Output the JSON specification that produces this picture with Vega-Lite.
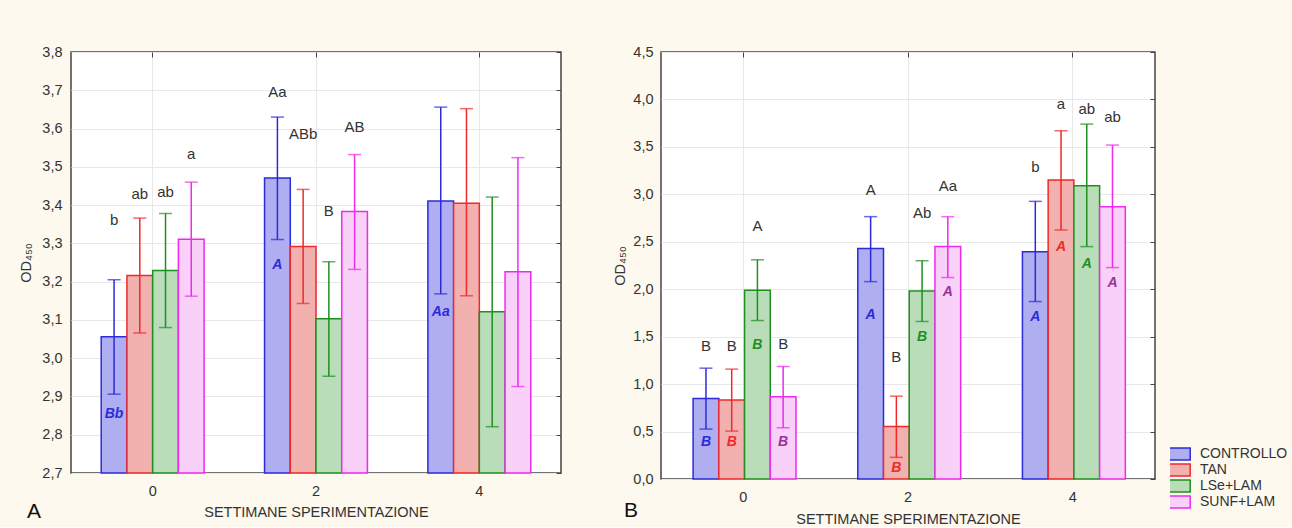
{
  "$schema": "https://vega.github.io/schema/vega-lite/v6.json",
  "background": "#fdf9ee",
  "padding": {"left": 18, "top": 43, "right": 136, "bottom": 0},
  "spacing": 100,
  "bounds": "flush",
  "resolve": {"scale": {"fill": "independent", "stroke": "independent", "color": "independent"}, "legend": {"fill": "independent", "stroke": "independent", "color": "independent"}},
  "config": {
    "font": "Liberation Sans",
    "view": {"stroke": "#444", "strokeWidth": 1.5, "fill": "white"},
    "axis": {"labelFont": "Liberation Sans", "labelFontSize": 14.5, "labelColor": "#333", "titleFont": "Liberation Sans", "titleFontSize": 14.5, "titleFontWeight": "normal", "titleColor": "#333", "gridColor": "#e8e8e8", "domain": false},
    "title": {"font": "Liberation Sans"}
  },
  "datasets": {
    "A": [
      {"week": "0", "group": "CONTROLLO", "mean": 3.056, "lo": 2.906, "hi": 3.205, "top": "b", "ly": 3.36, "inner": "Bb", "iy": 2.855},
      {"week": "0", "group": "TAN", "mean": 3.216, "lo": 3.066, "hi": 3.366, "top": "ab", "ly": 3.43, "inner": "", "iy": null},
      {"week": "0", "group": "LSe+LAM", "mean": 3.229, "lo": 3.08, "hi": 3.378, "top": "ab", "ly": 3.435, "inner": "", "iy": null},
      {"week": "0", "group": "SUNF+LAM", "mean": 3.311, "lo": 3.162, "hi": 3.46, "top": "a", "ly": 3.533, "inner": "", "iy": null},
      {"week": "2", "group": "CONTROLLO", "mean": 3.471, "lo": 3.31, "hi": 3.63, "top": "Aa", "ly": 3.696, "inner": "A", "iy": 3.244},
      {"week": "2", "group": "TAN", "mean": 3.292, "lo": 3.143, "hi": 3.441, "top": "ABb", "ly": 3.587, "inner": "", "iy": null},
      {"week": "2", "group": "LSe+LAM", "mean": 3.103, "lo": 2.953, "hi": 3.252, "top": "B", "ly": 3.384, "inner": "", "iy": null},
      {"week": "2", "group": "SUNF+LAM", "mean": 3.383, "lo": 3.232, "hi": 3.532, "top": "AB", "ly": 3.604, "inner": "", "iy": null},
      {"week": "4", "group": "CONTROLLO", "mean": 3.411, "lo": 3.168, "hi": 3.656, "top": "", "ly": null, "inner": "Aa", "iy": 3.12},
      {"week": "4", "group": "TAN", "mean": 3.405, "lo": 3.163, "hi": 3.652, "top": "", "ly": null, "inner": "", "iy": null},
      {"week": "4", "group": "LSe+LAM", "mean": 3.121, "lo": 2.821, "hi": 3.421, "top": "", "ly": null, "inner": "", "iy": null},
      {"week": "4", "group": "SUNF+LAM", "mean": 3.226, "lo": 2.926, "hi": 3.524, "top": "", "ly": null, "inner": "", "iy": null}
    ],
    "B": [
      {"week": "0", "group": "CONTROLLO", "mean": 0.849, "lo": 0.526, "hi": 1.168, "top": "B", "ly": 1.40, "inner": "B", "iy": 0.39},
      {"week": "0", "group": "TAN", "mean": 0.832, "lo": 0.505, "hi": 1.158, "top": "B", "ly": 1.40, "inner": "B", "iy": 0.39},
      {"week": "0", "group": "LSe+LAM", "mean": 1.989, "lo": 1.67, "hi": 2.31, "top": "A", "ly": 2.67, "inner": "B", "iy": 1.407},
      {"week": "0", "group": "SUNF+LAM", "mean": 0.867, "lo": 0.54, "hi": 1.186, "top": "B", "ly": 1.42, "inner": "B", "iy": 0.39},
      {"week": "2", "group": "CONTROLLO", "mean": 2.428, "lo": 2.08, "hi": 2.765, "top": "A", "ly": 3.05, "inner": "A", "iy": 1.73},
      {"week": "2", "group": "TAN", "mean": 0.554, "lo": 0.228, "hi": 0.873, "top": "B", "ly": 1.29, "inner": "B", "iy": 0.12},
      {"week": "2", "group": "LSe+LAM", "mean": 1.982, "lo": 1.66, "hi": 2.30, "top": "Ab", "ly": 2.80, "inner": "B", "iy": 1.50},
      {"week": "2", "group": "SUNF+LAM", "mean": 2.449, "lo": 2.123, "hi": 2.765, "top": "Aa", "ly": 3.09, "inner": "A", "iy": 1.97},
      {"week": "4", "group": "CONTROLLO", "mean": 2.396, "lo": 1.87, "hi": 2.926, "top": "b", "ly": 3.284, "inner": "A", "iy": 1.71},
      {"week": "4", "group": "TAN", "mean": 3.151, "lo": 2.624, "hi": 3.67, "top": "a", "ly": 3.95, "inner": "A", "iy": 2.44},
      {"week": "4", "group": "LSe+LAM", "mean": 3.091, "lo": 2.449, "hi": 3.74, "top": "ab", "ly": 3.895, "inner": "A", "iy": 2.27},
      {"week": "4", "group": "SUNF+LAM", "mean": 2.87, "lo": 2.228, "hi": 3.519, "top": "ab", "ly": 3.82, "inner": "A", "iy": 2.07}
    ]
  },
  "hconcat": [
    {
      "width": 490,
      "height": 421,
      "data": {"name": "A"},
      "title": {"text": "A", "orient": "bottom", "anchor": "start", "frame": "group", "fontSize": 21, "fontWeight": "normal", "color": "#111", "dx": -44, "dy": -22},
      "resolve": {"axis": {"x": "independent", "y": "independent"}},
      "layer": [
        {
          "mark": {"type": "bar", "strokeWidth": 1.5},
          "encoding": {
            "x": {"field": "week", "type": "nominal", "scale": {"paddingInner": 0.37, "paddingOuter": 0.185}, "axis": {"orient": "bottom", "labelAngle": 0, "ticks": false, "tickSize": 0, "labelPadding": 11, "title": "SETTIMANE SPERIMENTAZIONE", "titlePadding": 8, "grid": false}},
            "xOffset": {"field": "group", "type": "nominal", "sort": ["CONTROLLO", "TAN", "LSe+LAM", "SUNF+LAM"], "scale": {"paddingInner": 0, "paddingOuter": 0}},
            "y": {"field": "mean", "type": "quantitative", "scale": {"domain": [2.7, 3.8], "nice": false, "zero": false}, "axis": {"orient": "left", "values": [2.7, 2.8, 2.9, 3.0, 3.1, 3.2, 3.3, 3.4, 3.5, 3.6, 3.7, 3.8], "labelExpr": "replace(format(datum.value, '.1f'), '.', ',')", "ticks": false, "tickSize": 0, "labelPadding": 9, "title": "OD₄₅₀", "titlePadding": 8, "grid": true}},
            "y2": {"datum": 2.7},
            "fill": {"field": "group", "type": "nominal", "sort": ["CONTROLLO", "TAN", "LSe+LAM", "SUNF+LAM"], "scale": {"domain": ["CONTROLLO", "TAN", "LSe+LAM", "SUNF+LAM"], "range": ["#aeaef0", "#f2b0ae", "#b9dcb9", "#f8d0f8"]}, "legend": null},
            "stroke": {"field": "group", "type": "nominal", "sort": ["CONTROLLO", "TAN", "LSe+LAM", "SUNF+LAM"], "scale": {"domain": ["CONTROLLO", "TAN", "LSe+LAM", "SUNF+LAM"], "range": ["#2b2bdc", "#ee2a2a", "#1f8f1f", "#ee2aee"]}, "legend": null}
          }
        },
        {
          "mark": {"type": "rule", "strokeWidth": 1.5},
          "encoding": {
            "x": {"field": "week", "type": "nominal", "axis": {"orient": "top", "labels": false, "title": null, "tickSize": -5, "tickColor": "#444", "grid": true}},
            "xOffset": {"field": "group", "type": "nominal", "sort": ["CONTROLLO", "TAN", "LSe+LAM", "SUNF+LAM"]},
            "y": {"field": "lo", "type": "quantitative", "axis": {"orient": "right", "labels": false, "title": null, "values": [2.7, 2.8, 2.9, 3.0, 3.1, 3.2, 3.3, 3.4, 3.5, 3.6, 3.7, 3.8], "tickSize": -5, "tickColor": "#444", "grid": false}},
            "y2": {"field": "hi"},
            "color": {"field": "group", "type": "nominal", "scale": {"domain": ["CONTROLLO", "TAN", "LSe+LAM", "SUNF+LAM"], "range": ["#2b2bdc", "#ee2a2a", "#1f8f1f", "#ee2aee"]}, "legend": null}
          }
        },
        {
          "mark": {"type": "tick", "thickness": 1.5, "size": 13},
          "encoding": {
            "x": {"field": "week", "type": "nominal", "axis": null},
            "xOffset": {"field": "group", "type": "nominal", "sort": ["CONTROLLO", "TAN", "LSe+LAM", "SUNF+LAM"]},
            "y": {"field": "lo", "type": "quantitative", "axis": null},
            "color": {"field": "group", "type": "nominal", "legend": null}
          }
        },
        {
          "mark": {"type": "tick", "thickness": 1.5, "size": 13},
          "encoding": {
            "x": {"field": "week", "type": "nominal", "axis": null},
            "xOffset": {"field": "group", "type": "nominal", "sort": ["CONTROLLO", "TAN", "LSe+LAM", "SUNF+LAM"]},
            "y": {"field": "hi", "type": "quantitative", "axis": null},
            "color": {"field": "group", "type": "nominal", "legend": null}
          }
        },
        {
          "transform": [{"filter": "datum.top != ''"}],
          "mark": {"type": "text", "fontSize": 15, "color": "#333", "baseline": "middle"},
          "encoding": {
            "x": {"field": "week", "type": "nominal", "axis": null},
            "xOffset": {"field": "group", "type": "nominal", "sort": ["CONTROLLO", "TAN", "LSe+LAM", "SUNF+LAM"]},
            "y": {"field": "ly", "type": "quantitative", "axis": null},
            "text": {"field": "top"}
          }
        },
        {
          "transform": [{"filter": "datum.inner != ''"}],
          "mark": {"type": "text", "fontSize": 14, "fontStyle": "italic", "fontWeight": "bold", "baseline": "middle"},
          "encoding": {
            "x": {"field": "week", "type": "nominal", "axis": null},
            "xOffset": {"field": "group", "type": "nominal", "sort": ["CONTROLLO", "TAN", "LSe+LAM", "SUNF+LAM"]},
            "y": {"field": "iy", "type": "quantitative", "axis": null},
            "text": {"field": "inner"},
            "color": {"field": "group", "type": "nominal", "legend": null}
          }
        }
      ]
    },
    {
      "width": 494,
      "height": 427,
      "data": {"name": "B"},
      "title": {"text": "B", "orient": "bottom", "anchor": "start", "frame": "group", "fontSize": 21, "fontWeight": "normal", "color": "#111", "dx": -37, "dy": -30},
      "resolve": {"axis": {"x": "independent", "y": "independent"}},
      "layer": [
        {
          "mark": {"type": "bar", "strokeWidth": 1.5},
          "encoding": {
            "x": {"field": "week", "type": "nominal", "scale": {"paddingInner": 0.39, "paddingOuter": 0.195}, "axis": {"orient": "bottom", "labelAngle": 0, "ticks": false, "tickSize": 0, "labelPadding": 11, "title": "SETTIMANE SPERIMENTAZIONE", "titlePadding": 9, "grid": false}},
            "xOffset": {"field": "group", "type": "nominal", "sort": ["CONTROLLO", "TAN", "LSe+LAM", "SUNF+LAM"], "scale": {"paddingInner": 0, "paddingOuter": 0}},
            "y": {"field": "mean", "type": "quantitative", "scale": {"domain": [0, 4.5], "nice": false}, "axis": {"orient": "left", "values": [0, 0.5, 1, 1.5, 2, 2.5, 3, 3.5, 4, 4.5], "labelExpr": "replace(format(datum.value, '.1f'), '.', ',')", "ticks": false, "tickSize": 0, "labelPadding": 8, "title": "OD₄₅₀", "titlePadding": 5, "grid": true}},
            "y2": {"datum": 0},
            "fill": {"field": "group", "type": "nominal", "sort": ["CONTROLLO", "TAN", "LSe+LAM", "SUNF+LAM"], "scale": {"domain": ["CONTROLLO", "TAN", "LSe+LAM", "SUNF+LAM"], "range": ["#aeaef0", "#f2b0ae", "#b9dcb9", "#f8d0f8"]}, "legend": {"title": null, "orient": "none", "legendX": 509, "legendY": 394, "symbolType": "M-1.4,-0.75H1.4V0.75H-1.4Z", "symbolSize": 256, "symbolStrokeWidth": 1.5, "labelFontSize": 14, "labelColor": "#333", "labelFont": "Liberation Sans", "rowPadding": 0, "clipHeight": 16, "labelOffset": 12, "labelExpr": "datum.label == 'CONTROLLO' || datum.label == 'TAN' ? datum.label : '\u00a0' + datum.label"}},
            "stroke": {"field": "group", "type": "nominal", "sort": ["CONTROLLO", "TAN", "LSe+LAM", "SUNF+LAM"], "scale": {"domain": ["CONTROLLO", "TAN", "LSe+LAM", "SUNF+LAM"], "range": ["#2b2bdc", "#ee2a2a", "#1f8f1f", "#ee2aee"]}, "legend": {"title": null, "orient": "none", "legendX": 509, "legendY": 394, "symbolType": "M-1.4,-0.75H1.4V0.75H-1.4Z", "symbolSize": 256, "symbolStrokeWidth": 1.5, "labelFontSize": 14, "labelColor": "#333", "labelFont": "Liberation Sans", "rowPadding": 0, "clipHeight": 16, "labelOffset": 12, "labelExpr": "datum.label == 'CONTROLLO' || datum.label == 'TAN' ? datum.label : '\u00a0' + datum.label"}}
          }
        },
        {
          "mark": {"type": "rule", "strokeWidth": 1.5},
          "encoding": {
            "x": {"field": "week", "type": "nominal", "axis": {"orient": "top", "labels": false, "title": null, "tickSize": -5, "tickColor": "#444", "grid": true}},
            "xOffset": {"field": "group", "type": "nominal", "sort": ["CONTROLLO", "TAN", "LSe+LAM", "SUNF+LAM"]},
            "y": {"field": "lo", "type": "quantitative", "axis": {"orient": "right", "labels": false, "title": null, "values": [0, 0.5, 1, 1.5, 2, 2.5, 3, 3.5, 4, 4.5], "tickSize": -5, "tickColor": "#444", "grid": false}},
            "y2": {"field": "hi"},
            "color": {"field": "group", "type": "nominal", "scale": {"domain": ["CONTROLLO", "TAN", "LSe+LAM", "SUNF+LAM"], "range": ["#2b2bdc", "#ee2a2a", "#1f8f1f", "#ee2aee"]}, "legend": null}
          }
        },
        {
          "mark": {"type": "tick", "thickness": 1.5, "size": 13},
          "encoding": {
            "x": {"field": "week", "type": "nominal", "axis": null},
            "xOffset": {"field": "group", "type": "nominal", "sort": ["CONTROLLO", "TAN", "LSe+LAM", "SUNF+LAM"]},
            "y": {"field": "lo", "type": "quantitative", "axis": null},
            "color": {"field": "group", "type": "nominal", "legend": null}
          }
        },
        {
          "mark": {"type": "tick", "thickness": 1.5, "size": 13},
          "encoding": {
            "x": {"field": "week", "type": "nominal", "axis": null},
            "xOffset": {"field": "group", "type": "nominal", "sort": ["CONTROLLO", "TAN", "LSe+LAM", "SUNF+LAM"]},
            "y": {"field": "hi", "type": "quantitative", "axis": null},
            "color": {"field": "group", "type": "nominal", "legend": null}
          }
        },
        {
          "transform": [{"filter": "datum.top != ''"}],
          "mark": {"type": "text", "fontSize": 15, "color": "#333", "baseline": "middle"},
          "encoding": {
            "x": {"field": "week", "type": "nominal", "axis": null},
            "xOffset": {"field": "group", "type": "nominal", "sort": ["CONTROLLO", "TAN", "LSe+LAM", "SUNF+LAM"]},
            "y": {"field": "ly", "type": "quantitative", "axis": null},
            "text": {"field": "top"}
          }
        },
        {
          "transform": [{"filter": "datum.inner != '' && datum.group != 'SUNF+LAM'"}],
          "mark": {"type": "text", "fontSize": 14, "fontStyle": "italic", "fontWeight": "bold", "baseline": "middle"},
          "encoding": {
            "x": {"field": "week", "type": "nominal", "axis": null},
            "xOffset": {"field": "group", "type": "nominal", "sort": ["CONTROLLO", "TAN", "LSe+LAM", "SUNF+LAM"]},
            "y": {"field": "iy", "type": "quantitative", "axis": null},
            "text": {"field": "inner"},
            "color": {"field": "group", "type": "nominal", "legend": null}
          }
        },
        {
          "transform": [{"filter": "datum.inner != '' && datum.group == 'SUNF+LAM'"}],
          "mark": {"type": "text", "fontSize": 14, "fontStyle": "italic", "fontWeight": "bold", "baseline": "middle", "color": "#993399"},
          "encoding": {
            "x": {"field": "week", "type": "nominal", "axis": null},
            "xOffset": {"field": "group", "type": "nominal", "sort": ["CONTROLLO", "TAN", "LSe+LAM", "SUNF+LAM"]},
            "y": {"field": "iy", "type": "quantitative", "axis": null},
            "text": {"field": "inner"}
          }
        }
      ]
    }
  ]
}
